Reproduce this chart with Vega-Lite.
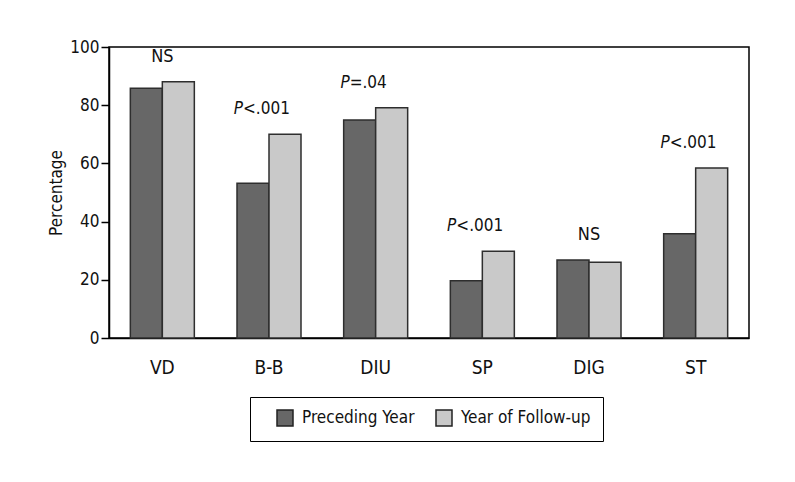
{
  "$schema": "https://vega.github.io/schema/vega-lite/v6.json",
  "width": 640,
  "height": 291,
  "autosize": {"type": "none"},
  "padding": {"left": 109, "top": 47, "right": 46, "bottom": 144},
  "background": "white",
  "config": {
    "font": "DejaVu Sans Condensed, Roboto, sans-serif",
    "view": {"stroke": "black", "strokeWidth": 1.5},
    "axis": {"domainColor": "black", "domainWidth": 1.5, "tickColor": "black", "labelColor": "#111", "titleColor": "#111", "grid": false}
  },
  "data": {
    "values": [
      {"category": "VD", "period": "Preceding Year", "value": 85.8, "p": "", "stat": "NS"},
      {"category": "VD", "period": "Year of Follow-up", "value": 88.1, "p": "", "stat": "NS"},
      {"category": "B-B", "period": "Preceding Year", "value": 53.2, "p": "P", "stat": "<.001"},
      {"category": "B-B", "period": "Year of Follow-up", "value": 70.0, "p": "P", "stat": "<.001"},
      {"category": "DIU", "period": "Preceding Year", "value": 74.9, "p": "P", "stat": "=.04"},
      {"category": "DIU", "period": "Year of Follow-up", "value": 79.1, "p": "P", "stat": "=.04"},
      {"category": "SP", "period": "Preceding Year", "value": 19.7, "p": "P", "stat": "<.001"},
      {"category": "SP", "period": "Year of Follow-up", "value": 29.8, "p": "P", "stat": "<.001"},
      {"category": "DIG", "period": "Preceding Year", "value": 26.8, "p": "", "stat": "NS"},
      {"category": "DIG", "period": "Year of Follow-up", "value": 26.0, "p": "", "stat": "NS"},
      {"category": "ST", "period": "Preceding Year", "value": 35.8, "p": "P", "stat": "<.001"},
      {"category": "ST", "period": "Year of Follow-up", "value": 58.4, "p": "P", "stat": "<.001"}
    ]
  },
  "encoding": {
    "x": {
      "field": "category", "type": "nominal", "sort": null,
      "scale": {"paddingInner": 0.4, "paddingOuter": 0.2},
      "axis": {"title": null, "labelAngle": 0, "ticks": false, "labelPadding": 20, "labelFontSize": 19}
    }
  },
  "layer": [
    {
      "mark": {"type": "bar", "stroke": "#2e2e2e", "strokeWidth": 1.5},
      "encoding": {
        "xOffset": {"field": "period", "type": "nominal", "sort": null},
        "y": {
          "field": "value", "type": "quantitative",
          "scale": {"domain": [0, 100], "nice": false},
          "axis": {"title": "Percentage", "values": [0, 20, 40, 60, 80, 100], "tickSize": 8, "tickWidth": 1.5, "labelPadding": 2, "labelFontSize": 17, "titleFontSize": 17, "titleFontWeight": "normal", "titlePadding": 4}
        },
        "color": {
          "field": "period", "type": "nominal", "sort": null,
          "scale": {"range": ["#676767", "#c9c9c9"]},
          "legend": {
            "title": null, "orient": "none", "legendX": 141, "legendY": 350,
            "direction": "horizontal", "symbolType": "square", "symbolSize": 256,
            "symbolStrokeColor": "#222", "symbolStrokeWidth": 1.5,
            "labelFontSize": 17, "labelColor": "#111", "labelOffset": 8, "columnPadding": 6,
            "strokeColor": "black", "padding": 12, "symbolOffset": 14, "fillColor": "white"
          }
        }
      }
    },
    {
      "transform": [
        {"filter": "datum.p == ''"},
        {"aggregate": [{"op": "max", "field": "value", "as": "top"}], "groupby": ["category", "stat"]}
      ],
      "mark": {"type": "text", "fontSize": 18, "dy": -20, "baseline": "alphabetic", "align": "center", "color": "#111"},
      "encoding": {
        "y": {"field": "top", "type": "quantitative"},
        "text": {"field": "stat"}
      }
    },
    {
      "transform": [
        {"filter": "datum.p != ''"},
        {"aggregate": [{"op": "max", "field": "value", "as": "top"}], "groupby": ["category", "p"]}
      ],
      "mark": {"type": "text", "fontSize": 17, "fontStyle": "italic", "dy": -20, "dx": -26, "baseline": "alphabetic", "align": "right", "color": "#111"},
      "encoding": {
        "y": {"field": "top", "type": "quantitative"},
        "text": {"field": "p"}
      }
    },
    {
      "transform": [
        {"filter": "datum.p != ''"},
        {"aggregate": [{"op": "max", "field": "value", "as": "top"}], "groupby": ["category", "stat"]}
      ],
      "mark": {"type": "text", "fontSize": 17, "dy": -20, "dx": -26, "baseline": "alphabetic", "align": "left", "color": "#111"},
      "encoding": {
        "y": {"field": "top", "type": "quantitative"},
        "text": {"field": "stat"}
      }
    }
  ]
}
